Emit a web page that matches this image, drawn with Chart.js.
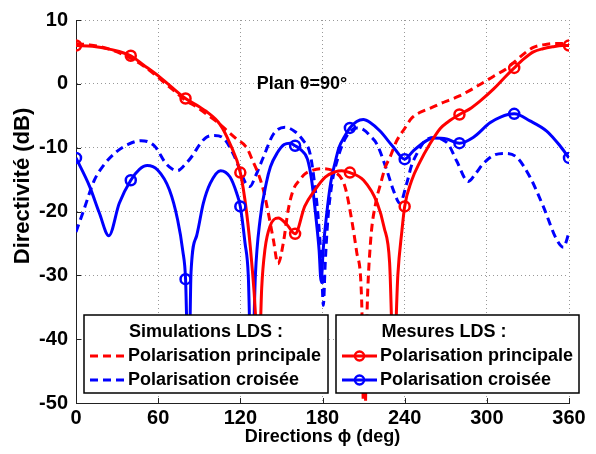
<!DOCTYPE html>
<html>
<head>
<meta charset="utf-8">
<script src="https://cdn.jsdelivr.net/npm/chart.js@4.4.0/dist/chart.umd.min.js"></script>
<style>
  html, body { margin: 0; padding: 0; background: #fff; }
  canvas { display: block; }
</style>
</head>
<body>
<canvas id="chart" width="596" height="454"></canvas>
<script>
const xTicks = [0, 60, 120, 180, 240, 300, 360];
const yTicks = [-50, -40, -30, -20, -10, 0, 10];

const markerAngles = [0, 40, 80, 120, 160, 200, 240, 280, 320, 360];
const mesPrincMarkers = [6.0, 4.4, -2.3, -13.9, -23.5, -13.9, -19.2, -4.8, 2.5, 6.0];
const mesCroisMarkers = [-11.6, -15.1, -30.6, -19.2, -9.7, -6.9, -11.8, -9.3, -4.7, -11.6];

const mesPrincAngles = [0, 12, 25, 40, 49, 61, 80, 90, 95, 105, 112.5, 120, 124.6, 128.3, 131, 133,
  135.6, 138, 141.7, 147.7, 153.8, 160, 167, 174.5, 182, 189, 194, 200, 210, 220, 225, 229, 232, 235,
  238, 240, 245, 251, 258.5, 266, 272, 280, 287, 295, 305, 313, 320, 327, 334, 341, 348, 355, 360];
const mesPrincValues = [6.0, 5.9, 5.4, 4.4, 3.0, 1.1, -2.3, -3.6, -4.3, -6.3, -9.4, -13.9, -20.2, -28, -36, -48,
  -32, -25.9, -22.3, -21, -22, -23.5, -19.2, -16.6, -14.6, -13.8, -13.6, -13.9, -15.1, -18.7, -22.5, -28, -45, -30,
  -23, -19.2, -15.2, -12.3, -9.4, -7.0, -5.9, -4.8, -4.0, -2.7, -0.8, 1.0, 2.5, 3.9, 5.0, 5.5, 5.8, 6.0, 6.0];

const mesCroisAngles = [0, 10, 17, 24, 31.6, 40, 46.3, 52, 59.6, 68.2, 74.2, 78, 80, 82.3, 84, 88.1, 93, 98,
  105.6, 112.5, 117.3, 120, 123.4, 125.8, 128.3, 131, 134.4, 139, 142, 147, 152, 156.3, 160, 164, 169, 172,
  175, 177.5, 179, 180.5, 183, 186, 189, 192, 196, 200, 205, 209.8, 215, 222, 231.7, 240, 246.3, 256, 261,
  270.7, 280, 290, 302.3, 310, 320, 331.5, 343.7, 353.4, 360];
const mesCroisValues = [-11.6, -16.1, -20.2, -23.8, -18.7, -15.1, -13.4, -12.8, -13.5, -16.6, -21.3, -26.2, -30.6, -48, -29.5, -23.8, -18.7, -15.6,
  -13.6, -14.6, -17.1, -19.2, -24.9, -30, -48, -30, -21.3, -15.5, -13, -10.8, -9.5, -9.3, -9.7, -10.3, -11.8, -15,
  -20.5, -26, -31, -26, -20.5, -15.5, -12.5, -10, -8.3, -6.9, -5.9, -5.6, -6.1, -7.4, -9.9, -11.8, -10.5, -8.9, -8.5,
  -8.65, -9.3, -8.4, -6.1, -5.2, -4.7, -5.8, -7.4, -9.7, -11.6];

const simPrincAngles = [0, 10, 20, 30, 40, 50, 60, 70, 80, 88, 95, 102.7, 110, 117, 124.6, 129.5, 133.1, 136.8,
  140.4, 144.1, 147.5, 151.4, 155, 158.7, 163.6, 167.2, 172, 179.4, 189, 196.4, 201.3, 205, 208.6, 210.5, 212.5,
  215, 219, 222, 226, 229.3, 234, 240, 245, 251, 260, 266, 273, 280, 295, 305, 314.5, 320, 327, 334, 341, 348.5, 355, 360];
const simPrincValues = [6.3, 6.1, 5.7, 5.0, 4.0, 2.7, 1.0, -0.8, -2.6, -3.6, -4.7, -5.9, -7.3, -8.6, -10.0, -12.3, -14.1, -16.6,
  -20.2, -24.4, -28.2, -24.9, -19.7, -16.6, -15.0, -14.1, -13.6, -13.3, -13.8, -16.1, -21.3, -26.4, -34, -58, -36,
  -25, -18.5, -16, -13, -11.5, -9.0, -7.0, -5.4, -4.5, -3.7, -3.1, -2.5, -1.9, -0.1, 1.2, 2.4, 3.4, 4.7, 5.7, 6.1, 6.3, 6.3, 6.2];

const simCroisAngles = [0, 5, 13.4, 20, 29.2, 38, 47.5, 57.2, 65.7, 70, 74.2, 79, 85.2, 90, 95, 101, 107.6, 114.9,
  120, 124, 127, 131, 136.8, 144.1, 152.6, 160, 166, 171, 174.5, 177, 179.4, 180.6, 182, 184, 187, 191, 195, 200,
  205, 210, 215, 219.6, 226.9, 232, 236.5, 241.5, 245, 248.8, 256, 263, 268, 272, 278, 286.5, 292, 297.4, 305,
  313.3, 321.8, 331.5, 341.2, 351, 355.9, 360];
const simCroisValues = [-23.2, -20.2, -15.1, -12.8, -10.7, -9.5, -8.9, -9.7, -12.5, -13.3, -13.6, -12.8, -11.2, -9.6, -8.4, -8.1, -8.5, -11,
  -13.6, -15.6, -16.1, -14.5, -11.5, -7.9, -6.8, -7.5, -8.9, -11, -16.1, -21.3, -29, -34.7, -28, -21, -15.5, -11.8, -9.3, -7.5,
  -6.9, -7.2, -8.2, -9.4, -13.5, -16.8, -18.7, -15.6, -12.8, -11, -8.7, -8.4, -8.8, -9.5, -12.1, -15.3, -14, -12.5, -11.2,
  -10.9, -11.5, -14.6, -19.2, -24.4, -25.6, -23.3];

const RED = "#ff0000";
const BLUE = "#0000ff";
const FONT = "'Liberation Sans', Arial, sans-serif";

function toPoints(angles, values) {
  return angles.map((a, i) => ({ x: a, y: values[i] }));
}

function curve(angles, values, color, dashed) {
  return {
    data: toPoints(angles, values),
    borderColor: color,
    borderWidth: 3,
    borderDash: dashed ? [8, 5] : [],
    pointRadius: 0,
    cubicInterpolationMode: "monotone",
    fill: false,
  };
}

function markers(values, color) {
  return {
    data: toPoints(markerAngles, values),
    showLine: false,
    pointRadius: 5,
    pointBorderWidth: 2.5,
    pointBorderColor: color,
    pointBackgroundColor: "rgba(0,0,0,0)",
  };
}

function drawLegendBox(ctx, box) {
  ctx.save();
  ctx.fillStyle = "#fff";
  ctx.fillRect(box.x, box.y, box.w, box.h);
  ctx.strokeStyle = "#000";
  ctx.lineWidth = 1.5;
  ctx.setLineDash([]);
  ctx.strokeRect(box.x, box.y, box.w, box.h);
  ctx.fillStyle = "#000";
  ctx.font = "bold 18px " + FONT;
  ctx.textBaseline = "middle";
  ctx.textAlign = "center";
  ctx.fillText(box.title, box.titleX, box.y + 17);
  ctx.textAlign = "left";
  box.entries.forEach((e, i) => {
    const y = box.y + 41 + i * 24;
    ctx.strokeStyle = e.color;
    ctx.lineWidth = 3;
    ctx.setLineDash(box.dashed ? [8, 5] : []);
    ctx.beginPath();
    ctx.moveTo(box.x + 6, y);
    ctx.lineTo(box.x + 41, y);
    ctx.stroke();
    if (box.marker) {
      ctx.setLineDash([]);
      ctx.lineWidth = 2.5;
      ctx.beginPath();
      ctx.arc(box.x + 23.5, y, 4.5, 0, Math.PI * 2);
      ctx.stroke();
    }
    ctx.fillStyle = "#000";
    ctx.fillText(e.label, box.x + 44, y);
  });
  ctx.restore();
}

const decorations = {
  id: "decorations",
  afterDraw(chart) {
    const ctx = chart.ctx;
    const xs = chart.scales.x;
    const ys = chart.scales.y;
    const area = chart.chartArea;
    ctx.save();
    ctx.strokeStyle = "#222";
    ctx.lineWidth = 1;
    ctx.beginPath();
    xTicks.forEach((v) => {
      const px = Math.round(xs.getPixelForValue(v)) + 0.5;
      ctx.moveTo(px, area.bottom);
      ctx.lineTo(px, area.bottom - 5);
    });
    yTicks.forEach((v) => {
      const py = Math.round(ys.getPixelForValue(v)) + 0.5;
      ctx.moveTo(area.left, py);
      ctx.lineTo(area.left + 5, py);
    });
    ctx.stroke();

    ctx.fillStyle = "#000";
    ctx.font = "bold 18px " + FONT;
    ctx.textAlign = "center";
    ctx.textBaseline = "middle";
    ctx.fillText("Plan \u03b8=90\u00b0", xs.getPixelForValue(165), ys.getPixelForValue(0));

    // titre de l'axe vertical
    ctx.translate(23, 186);
    ctx.rotate(-Math.PI / 2);
    ctx.font = "bold 22px " + FONT;
    ctx.fillText("Directivité (dB)", 0, 0);
    ctx.restore();

    drawLegendBox(ctx, {
      x: 84, y: 315, w: 244, h: 78, titleX: 206, dashed: true, marker: false,
      title: "Simulations LDS :",
      entries: [
        { label: "Polarisation principale", color: RED },
        { label: "Polarisation croisée", color: BLUE },
      ],
    });
    drawLegendBox(ctx, {
      x: 336, y: 315, w: 243, h: 78, titleX: 444, dashed: false, marker: true,
      title: "Mesures LDS :",
      entries: [
        { label: "Polarisation principale", color: RED },
        { label: "Polarisation croisée", color: BLUE },
      ],
    });
  },
};

Chart.defaults.font.family = FONT;
Chart.defaults.font.weight = "bold";
Chart.defaults.font.size = 18;
Chart.defaults.color = "#000";

const ctx = document.getElementById("chart").getContext("2d");
const chart = new Chart(ctx, {
  type: "line",
  data: {
    datasets: [
      markers(mesPrincMarkers, RED),
      markers(mesCroisMarkers, BLUE),
      curve(mesPrincAngles, mesPrincValues, RED, false),
      curve(mesCroisAngles, mesCroisValues, BLUE, false),
      curve(simPrincAngles, simPrincValues, RED, true),
      curve(simCroisAngles, simCroisValues, BLUE, true),
    ],
  },
  options: {
    responsive: false,
    animation: false,
    devicePixelRatio: 1,
    layout: { padding: { top: 14, right: 27, left: 0, bottom: 0 } },
    plugins: { legend: { display: false }, tooltip: { enabled: false } },
    scales: {
      x: {
        type: "linear",
        min: 0,
        max: 360,
        afterBuildTicks: (s) => { s.ticks = xTicks.map((v) => ({ value: v })); },
        afterFit: (s) => { s.height = 51; },
        ticks: { font: { size: 20, weight: "bold" }, padding: 3, maxRotation: 0 },
        grid: { color: "#999", lineWidth: 1, drawTicks: false },
        border: { color: "#222", width: 1, dash: [1, 3] },
        title: { display: true, text: "Directions \u03d5 (deg)", font: { size: 18, weight: "bold" }, padding: { bottom: 6 } },
      },
      y: {
        type: "linear",
        min: -50,
        max: 10,
        afterBuildTicks: (s) => { s.ticks = yTicks.map((v) => ({ value: v })); },
        afterFit: (s) => { s.width = 76; },
        ticks: { font: { size: 20, weight: "bold" }, padding: 8 },
        grid: { color: "#999", lineWidth: 1, drawTicks: false },
        border: { color: "#222", width: 1, dash: [1, 3] },
      },
    },
  },
  plugins: [decorations],
});
</script>
</body>
</html>
